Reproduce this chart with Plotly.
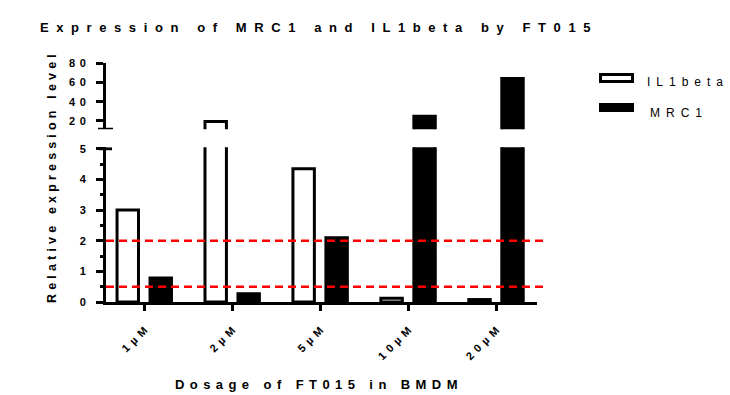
import plotly.graph_objects as go

# ---- data ----
categories = ["1µM", "2µM", "5µM", "10µM", "20µM"]
il1beta = [3.0, 19.5, 4.35, 0.12, 0.08]
mrc1 = [0.78, 0.27, 2.1, 25, 64]
thresholds = [2, 0.5]
lower_ticks = [0, 1, 2, 3, 4, 5]
upper_ticks = [20, 40, 60, 80]
series_names = ["IL1beta", "MRC1"]

title_text = "Expression of MRC1 and IL1beta by FT015"
xtitle_text = "Dosage of FT015 in BMDM"
ytitle_text = "Relative expression level"

EN = "\u2002"
MID = "\u2004\u200a"


def sp(s, sep=" "):
    return sep.join(s)


FONT = "Liberation Sans, Arial, sans-serif"
W, H = 730, 395
ML, MR, MT, MB = 106, 193, 63, 93
PW, PH = W - ML - MR, H - MT - MB


def px(x):
    return (x - ML) / PW


def py(y):
    return (H - MB - y) / PH


fig = go.Figure()
for yax in ["y", "y2"]:
    fig.add_trace(go.Bar(x=categories, y=il1beta, name=series_names[0], yaxis=yax,
                         marker=dict(color="white", line=dict(color="black", width=3)),
                         showlegend=False))
    fig.add_trace(go.Bar(x=categories, y=mrc1, name=series_names[1], yaxis=yax,
                         marker=dict(color="black", line=dict(color="black", width=3)),
                         showlegend=False))

xtickfont = dict(family=FONT, size=11, color="black", weight="bold")
ytickfont = dict(family=FONT, size=11, color="black", weight="bold")

lower_dom = [0, (H - MB - 147.3) / PH]
upper_dom = [(H - MB - 129.3) / PH, 1]

shapes = []
for t in thresholds:
    shapes.append(dict(type="line", xref="paper", yref="y", x0=0, x1=px(543), y0=t, y1=t,
                       line=dict(color="#ff0000", width=2.5, dash="8px,5px"), layer="above"))
# axis break caps
shapes.append(dict(type="line", xref="paper", yref="y2", xsizemode="pixel", xanchor=0,
                   x0=-8, x1=7, y0=11.4, y1=11.4, line=dict(color="black", width=3)))
shapes.append(dict(type="line", xref="paper", yref="y", xsizemode="pixel", xanchor=0,
                   x0=-7, x1=6, y0=5, y1=5, line=dict(color="black", width=3)))
# legend boxes
shapes.append(dict(type="rect", xref="paper", yref="paper", x0=px(600.5), x1=px(632.5),
                   y0=py(81.5), y1=py(74.5), fillcolor="white", line=dict(color="black", width=3)))
shapes.append(dict(type="rect", xref="paper", yref="paper", x0=px(599), x1=px(634),
                   y0=py(112), y1=py(103), fillcolor="black", line=dict(color="black", width=0)))

annotations = [
    dict(text=sp(series_names[0], EN), xref="paper", yref="paper", x=px(645), y=py(82),
         xanchor="left", yanchor="middle", showarrow=False,
         font=dict(family=FONT, size=12, color="black")),
    dict(text=sp(series_names[1], EN), xref="paper", yref="paper", x=px(648), y=py(113),
         xanchor="left", yanchor="middle", showarrow=False,
         font=dict(family=FONT, size=12, color="black")),
    dict(text=sp(ytitle_text, "\u2004"), xref="paper", yref="paper", x=px(52), y=py(179),
         xanchor="center", yanchor="middle", textangle=-90, showarrow=False,
         font=dict(family=FONT, size=12.5, color="black", weight="bold")),
    dict(text=sp(xtitle_text, MID), xref="paper", yref="paper", x=px(316), y=py(384),
         xanchor="center", yanchor="middle", showarrow=False,
         font=dict(family=FONT, size=13, color="black", weight="bold")),
]

fig.update_layout(
    width=W, height=H,
    margin=dict(l=ML, r=MR, t=MT, b=MB),
    paper_bgcolor="white", plot_bgcolor="white",
    barmode="group", bargap=0.25, bargroupgap=0.35,
    title=dict(text=sp(title_text, EN + "\u200a"), x=40 / W, xanchor="left",
               y=1 - 27 / H, yanchor="middle",
               font=dict(family=FONT, size=13, color="black", weight="bold")),
    xaxis=dict(type="category", range=[-0.435, 4.466], tickmode="array",
               tickvals=categories, ticktext=[sp(c, MID) for c in categories],
               tickangle=-45, ticks="outside", ticklen=6, tickwidth=2.5, tickcolor="black",
               ticklabelstandoff=9,
               showline=True, linecolor="black", linewidth=2.5, showgrid=False,
               tickfont=xtickfont, anchor="y"),
    yaxis=dict(domain=lower_dom, range=[0, 5.05], tickmode="array", tickvals=lower_ticks,
               ticktext=[sp(str(v), MID) for v in lower_ticks],
               ticks="outside", ticklen=7, tickwidth=3, tickcolor="black",
               ticklabelstandoff=8,
               minor=dict(dtick=0.5, tick0=0, ticks="outside", ticklen=3, tickwidth=2.5,
                          tickcolor="black", showgrid=False),
               showline=True, linecolor="black", linewidth=3, showgrid=False, zeroline=False,
               tickfont=ytickfont, anchor="x"),
    yaxis2=dict(domain=upper_dom, range=[11.4, 80], tickmode="array", tickvals=upper_ticks,
                ticktext=[sp(str(v), MID) for v in upper_ticks],
                ticks="outside", ticklen=7, tickwidth=3, tickcolor="black",
                ticklabelstandoff=8,
                showline=True, linecolor="black", linewidth=3, showgrid=False, zeroline=False,
                tickfont=ytickfont, anchor="x"),
    shapes=shapes,
    annotations=annotations,
)

fig.write_html("out.html", config={"displayModeBar": False},
               post_script="document.body.style.margin='0';")
